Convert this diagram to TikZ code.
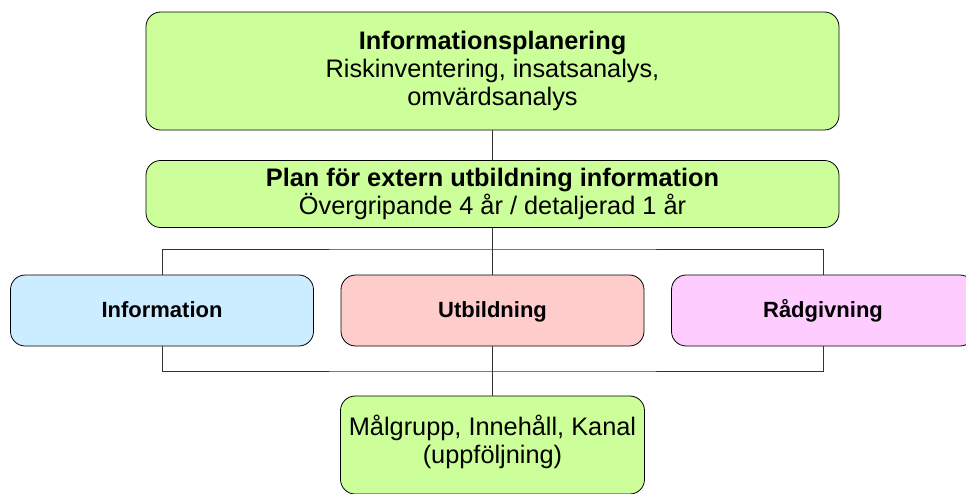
\documentclass[tikz,border=0pt]{standalone}
\usepackage{fontspec}
\setmainfont{Liberation Sans}
\usepackage{tikz}

\definecolor{planGreen}{HTML}{CCFF99}
\definecolor{infoBlue}{HTML}{CCECFF}
\definecolor{utbRed}{HTML}{FFCCCC}
\definecolor{radPink}{HTML}{FFCCFF}

\begin{document}
\begin{tikzpicture}[x=0.75pt, y=-0.75pt,
                box/.style={draw=black, line width=0.6pt, rounded corners=11pt, align=center, inner sep=0pt},
                bigbox/.style={box, font=\fontsize{19}{21.2}\selectfont},
                smallbox/.style={box, font=\fontsize{16.5}{19}\selectfont\bfseries, text height=14pt, text depth=3pt,
                    minimum width=227.25pt, minimum height=53.25pt},
                wire/.style={draw=black!80, line width=0.6pt}]
                \useasboundingbox (0,0) rectangle (966,493);

                % planering och plan
                \node[bigbox, fill=planGreen, minimum width=519.75pt, minimum height=88.5pt] (plan) at (492.5,71)
                    {\textbf{Informationsplanering}\\Riskinventering, insatsanalys,\\omvärdsanalys};
                \node[bigbox, fill=planGreen, minimum width=519.75pt, minimum height=50.25pt] (extplan) at (492.5,194)
                    {\textbf{Plan för extern utbildning information}\\Övergripande 4 år / detaljerad 1 år};

                % de tre delarna
                \node[smallbox, fill=infoBlue] (info) at (162,310.5) {Information};
                \node[smallbox, fill=utbRed] (utb) at (492.5,310.5) {Utbildning};
                \node[smallbox, fill=radPink] (rad) at (823,310.5) {Rådgivning};

                \node[bigbox, fill=planGreen, text depth=9pt, minimum width=228pt, minimum height=73.5pt] (malgrupp) at (492.5,445)
                    {Målgrupp, Innehåll, Kanal\\(uppföljning)};

                % ledningar
                \coordinate (topbar) at (492.5,249);
                \coordinate (botbar) at (492.5,371);
                \draw[wire] (plan) -- (extplan);
                \draw[wire] (extplan) -- (utb);
                \draw[wire] (utb) -- (malgrupp);
                \draw[wire] (info.north) |- (topbar) -| (rad.north);
                \draw[wire] (info.south) |- (botbar) -| (rad.south);
            \end{tikzpicture}
\end{document}
